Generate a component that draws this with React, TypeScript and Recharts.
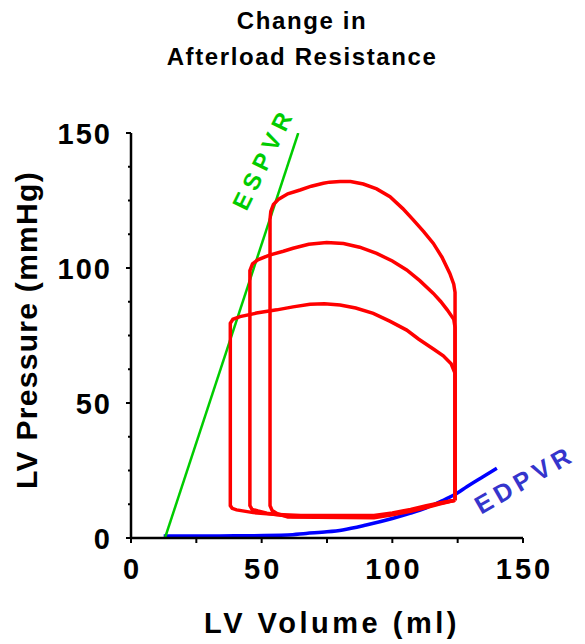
import React from 'react';
import { ComposedChart, Line, XAxis, YAxis } from 'recharts';

const titleLines = ['Change in', 'Afterload Resistance'];
const xTitle = 'LV Volume (ml)';
const yTitle = 'LV Pressure (mmHg)';
const espvrLabel = 'ESPVR';
const edpvrLabel = 'EDPVR';

const xTicks = [0, 25, 50, 75, 100, 125, 150];
const yTicks = [0, 12.5, 25, 37.5, 50, 62.5, 75, 87.5, 100, 112.5, 125, 137.5, 150];
const labeledTicks = [0, 50, 100, 150];

// P-V loops (volume ml, pressure mmHg)
const loopLow = [
  { x: 124, y: 14 }, { x: 124, y: 61 }, { x: 122.5, y: 64.5 }, { x: 119.5, y: 67.5 },
  { x: 115.7, y: 70 }, { x: 110, y: 73.7 }, { x: 105.5, y: 77 }, { x: 99, y: 80.3 },
  { x: 92.7, y: 83.2 }, { x: 86, y: 85.2 }, { x: 80, y: 86.3 }, { x: 74, y: 86.8 },
  { x: 68.5, y: 86.6 }, { x: 62, y: 85.6 }, { x: 55.8, y: 84.5 }, { x: 48, y: 83.3 },
  { x: 41.7, y: 82 }, { x: 39, y: 81 }, { x: 38, y: 79.5 }, { x: 38, y: 12 },
  { x: 38.7, y: 11 }, { x: 40.4, y: 10.4 }, { x: 46.8, y: 9.4 }, { x: 52, y: 9 },
  { x: 58.3, y: 8.6 }, { x: 65, y: 8.3 }, { x: 93, y: 8.3 }, { x: 100, y: 9.3 },
  { x: 107, y: 10.6 }, { x: 113, y: 12 }, { x: 118, y: 13 }, { x: 124, y: 14 },
];

const loopMid = [
  { x: 124, y: 14 }, { x: 124, y: 78 }, { x: 123.5, y: 81 }, { x: 121, y: 84.5 },
  { x: 118.5, y: 87.6 }, { x: 115.7, y: 90.6 }, { x: 110.5, y: 95.3 }, { x: 105.5, y: 99.3 },
  { x: 100, y: 102.6 }, { x: 94, y: 105.4 }, { x: 87.5, y: 107.7 }, { x: 81.3, y: 109.1 },
  { x: 74.9, y: 109.4 }, { x: 68, y: 108.8 }, { x: 62, y: 107.3 }, { x: 58.3, y: 106.2 },
  { x: 53, y: 104.8 }, { x: 48.5, y: 103 }, { x: 46.5, y: 101.5 }, { x: 45.5, y: 99 },
  { x: 45.5, y: 12 }, { x: 46.3, y: 10.6 }, { x: 48.6, y: 10 }, { x: 52, y: 9.2 },
  { x: 55.8, y: 8.6 }, { x: 62, y: 8 }, { x: 93, y: 7.8 }, { x: 100, y: 8.9 },
  { x: 107, y: 10.2 }, { x: 113, y: 11.6 }, { x: 118, y: 12.8 }, { x: 124, y: 14 },
];

const loopHigh = [
  { x: 124, y: 14 }, { x: 124, y: 91 }, { x: 123.5, y: 94 }, { x: 122, y: 98 },
  { x: 119, y: 104 }, { x: 115.7, y: 109.1 }, { x: 112, y: 113.5 }, { x: 108, y: 117.8 },
  { x: 104, y: 122 }, { x: 99.1, y: 126.4 }, { x: 94, y: 129.3 }, { x: 88.9, y: 131.1 },
  { x: 84, y: 132 }, { x: 80, y: 132 }, { x: 76, y: 131.8 }, { x: 73.6, y: 131.4 },
  { x: 69, y: 130.3 }, { x: 64.7, y: 128.9 }, { x: 60, y: 127.5 }, { x: 56.5, y: 125.5 },
  { x: 54.5, y: 123.5 }, { x: 53.5, y: 121 }, { x: 53.2, y: 118 }, { x: 53.2, y: 12 },
  { x: 54, y: 10.2 }, { x: 56, y: 9 }, { x: 60, y: 7.8 }, { x: 93, y: 7.5 },
  { x: 100, y: 8.6 }, { x: 107, y: 9.9 }, { x: 113, y: 11.3 }, { x: 118, y: 12.6 },
  { x: 124, y: 14 },
];

const espvr = [{ x: 13, y: 0 }, { x: 64, y: 150 }];

const edpvr = [
  { x: 12.5, y: 0.7 }, { x: 40, y: 0.8 }, { x: 60, y: 1.1 }, { x: 67, y: 1.7 },
  { x: 75, y: 2.3 }, { x: 81, y: 3 }, { x: 90, y: 4.8 }, { x: 100, y: 7.2 },
  { x: 107, y: 9.2 }, { x: 113, y: 11.2 }, { x: 119, y: 13.8 }, { x: 124.6, y: 16.5 },
  { x: 128.5, y: 19 }, { x: 134.7, y: 22.7 }, { x: 140, y: 25.8 },
];

const FONT = '"Liberation Sans", Arial, Helvetica, sans-serif';

const YTick = (props: any) => {
  const { x, y, payload } = props;
  const v = payload.value;
  const major = labeledTicks.includes(v);
  return (
    <g>
      <line x1={x} x2={x - (major ? 5 : 3)} y1={y} y2={y} stroke="#000" strokeWidth={2} />
      {major && (
        <text x={x - 19} y={y + 10.5} textAnchor="end" fontFamily={FONT} fontWeight="bold"
          fontSize={29} letterSpacing={2} fill="#000">{v}</text>
      )}
    </g>
  );
};

const XTick = (props: any) => {
  const { x, y, payload } = props;
  const v = payload.value;
  const major = labeledTicks.includes(v);
  return (
    <g>
      <line x1={x} x2={x} y1={y} y2={y + 5} stroke="#000" strokeWidth={2} />
      {major && (
        <text x={x + 1.5} y={y + 41} textAnchor="middle" fontFamily={FONT} fontWeight="bold"
          fontSize={29} letterSpacing={3} fill="#000">{v}</text>
      )}
    </g>
  );
};

export default function App() {
  return (
    <div style={{ position: 'absolute', left: 0, top: 0, width: 585, height: 644, background: '#fff' }}>
      <ComposedChart width={585} height={644} margin={{ top: 133, right: 62, bottom: 76, left: 71 }}>
        <XAxis dataKey="x" type="number" domain={[0, 150]} ticks={xTicks} interval={0}
          allowDataOverflow tickSize={0} tickMargin={0} tickLine={false} height={30}
          axisLine={{ stroke: '#000', strokeWidth: 2.5 }} tick={<XTick />} />
        <YAxis dataKey="y" type="number" domain={[0, 150]} ticks={yTicks} interval={0}
          allowDataOverflow tickSize={0} tickMargin={0} tickLine={false} width={60}
          axisLine={{ stroke: '#000', strokeWidth: 2.5 }} tick={<YTick />} />
        <Line data={edpvr} dataKey="y" type="monotone" dot={false} stroke="#0000ff" strokeWidth={3.5} isAnimationActive={false} />
        <Line data={espvr} dataKey="y" type="linear" dot={false} stroke="#00cc00" strokeWidth={2.5} isAnimationActive={false} />
        <Line data={loopLow} dataKey="y" type="linear" dot={false} stroke="#ff0000" strokeWidth={3.5} isAnimationActive={false} />
        <Line data={loopMid} dataKey="y" type="linear" dot={false} stroke="#ff0000" strokeWidth={3.5} isAnimationActive={false} />
        <Line data={loopHigh} dataKey="y" type="linear" dot={false} stroke="#ff0000" strokeWidth={3.5} isAnimationActive={false} />
        <g fontFamily={FONT} fontWeight="bold">
          <text x={302} y={29} textAnchor="middle" fontSize={24} letterSpacing={1.6} fill="#000">{titleLines[0]}</text>
          <text x={302} y={65} textAnchor="middle" fontSize={24} letterSpacing={1.6} fill="#000">{titleLines[1]}</text>
          <text x={332} y={633} textAnchor="middle" fontSize={29} letterSpacing={3.5} fill="#000">{xTitle}</text>
          <text transform="translate(37,330) rotate(-90)" textAnchor="middle" fontSize={30} letterSpacing={1.3} fill="#000">{yTitle}</text>
          <text transform="translate(271,162) rotate(-64)" textAnchor="middle" fontSize={24} letterSpacing={6} fill="#00cc00">{espvrLabel}</text>
          <text transform="translate(529,487) rotate(-30)" textAnchor="middle" fontSize={25} letterSpacing={5} fill="#3535cc">{edpvrLabel}</text>
        </g>
      </ComposedChart>
    </div>
  );
}
